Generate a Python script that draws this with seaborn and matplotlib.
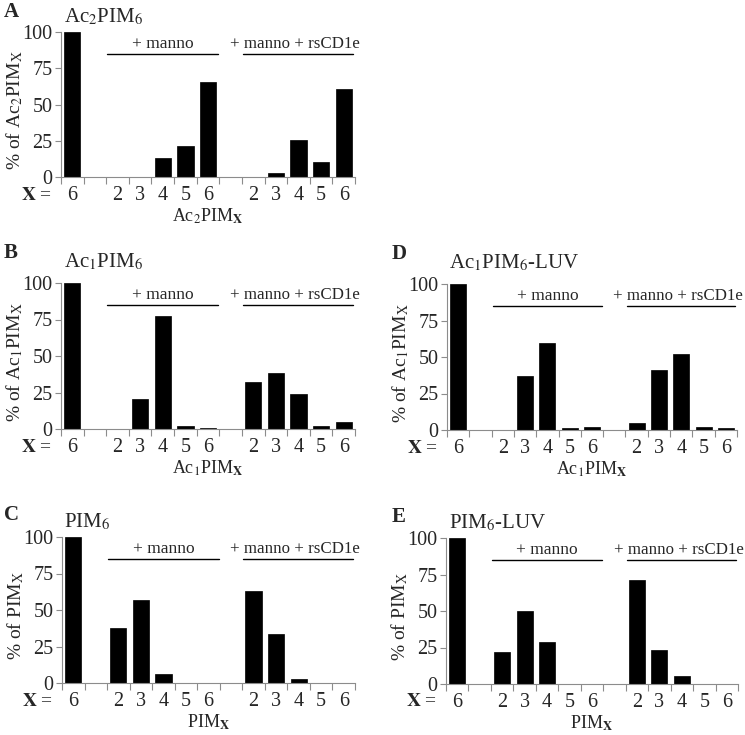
import seaborn as sns
import pandas as pd
import matplotlib.pyplot as plt

# slot layout: control, gap, +manno (2-6), gap, +manno+rsCD1e (2-6)
slots = ["c6", "gap1", "m2", "m3", "m4", "m5", "m6", "gap2", "r2", "r3", "r4", "r5", "r6"]
slot_labels = ["6", "", "2", "3", "4", "5", "6", "", "2", "3", "4", "5", "6"]
data_slots = ["c6", "m2", "m3", "m4", "m5", "m6", "r2", "r3", "r4", "r5", "r6"]

ac2pim6 = [100, 0, 0, 13, 21.5, 65.7, 0, 3, 25.7, 10.6, 60.7]
ac1pim6 = [100, 0, 20.6, 77.3, 2.3, 0.5, 32, 38.4, 23.8, 1.8, 4.8]
ac1pim6_luv = [100, 0, 37.1, 59.9, 1.6, 1.9, 4.8, 41, 51.9, 1.8, 1.5]
pim6 = [100, 37.6, 56.9, 6.4, 0, 0, 63.3, 33.5, 2.5, 0, 0]
pim6_luv = [100, 21.9, 49.8, 28.5, 0, 0, 71.5, 23.5, 5.5, 0, 0]

panels = [
    ("A", r"Ac$_2$PIM$_6$", ac2pim6, r"% of Ac$_2$PIM$_\mathrm{X}$", r"Ac$_2$PIM$_\mathbf{X}$"),
    ("B", r"Ac$_1$PIM$_6$", ac1pim6, r"% of Ac$_1$PIM$_\mathrm{X}$", r"Ac$_1$PIM$_\mathbf{X}$"),
    ("D", r"Ac$_1$PIM$_6$-LUV", ac1pim6_luv, r"% of Ac$_1$PIM$_\mathrm{X}$", r"Ac$_1$PIM$_\mathbf{X}$"),
    ("C", r"PIM$_6$", pim6, r"% of PIM$_\mathrm{X}$", r"PIM$_\mathbf{X}$"),
    ("E", r"PIM$_6$-LUV", pim6_luv, r"% of PIM$_\mathrm{X}$", r"PIM$_\mathbf{X}$"),
]

sns.set_style("ticks")
plt.rcParams["font.family"] = ["Liberation Serif", "DejaVu Serif"]
plt.rcParams["mathtext.fontset"] = "stix"

W, H = 745, 735
fig = plt.figure(figsize=(7.45, 7.35), dpi=100)

# axes boxes in pixels: left, right, top(y=100), bottom(y=0)
boxes = {
    "A": (61, 355, 32, 177),
    "B": (61, 355, 283, 429),
    "D": (447, 737, 284, 430),
    "C": (62, 355, 537, 683),
    "E": (446, 738, 538, 684),
}
letter_pos = {"A": (4, 12), "B": (4, 253), "D": (392, 254), "C": (4, 515), "E": (392, 517)}
title_pos = {"A": (64, 17), "B": (64, 262), "D": (449, 263), "C": (64, 522), "E": (449, 523)}

gray = "#8c8c8c"
for letter, title, vals, ylab, xlab in panels:
    l, r, t, b = boxes[letter]
    ax = fig.add_axes([l / W, 1 - b / H, (r - l) / W, (b - t) / H])
    df = pd.DataFrame({"slot": data_slots, "val": vals})
    sns.barplot(data=df, x="slot", y="val", order=slots, color="black",
                width=0.72, edgecolor="black", linewidth=0.5, ax=ax)
    ax.set_xlim(-0.5, 12.5)
    ax.set_ylim(0, 100)
    ax.set_yticks([0, 25, 50, 75, 100])
    ax.set_xticks([i - 0.5 for i in range(14)])
    ax.set_xticklabels([])
    ax.set_xticks(range(13), minor=True)
    ax.set_xticklabels(slot_labels, minor=True)
    ax.tick_params(axis="x", which="major", length=5, color=gray, width=0.8)
    ax.tick_params(axis="x", which="minor", length=0, pad=6.5, labelsize=14.5)
    ax.tick_params(axis="y", length=4, color=gray, width=0.8, labelsize=14.5, pad=2)
    for side in ["top", "right"]:
        ax.spines[side].set_visible(False)
    for side in ["left", "bottom"]:
        ax.spines[side].set_color(gray)
        ax.spines[side].set_linewidth(0.8)
    ax.set_ylabel("")
    ax.set_xlabel(xlab, fontsize=13, labelpad=1)

    # group brackets
    ax.plot([1.55, 6.45], [85, 85], color="black", lw=1, clip_on=False)
    ax.plot([7.55, 12.4], [85, 85], color="black", lw=1, clip_on=False)
    ax.text(4, 91.5, "+ manno", ha="center", va="center", fontsize=12.5)
    ax.text(9.85, 91.5, "+ manno + rsCD1e", ha="center", va="center", fontsize=12.2)

    # y label placed on whole pixels
    fig.text((l - 46) / W, 1 - round((t + b) / 2 + 6) / H, ylab, rotation=90,
             ha="center", va="center", fontsize=14)
    fig.text((l - 24) / W, 1 - (b + 18) / H, r"$\mathbf{X}$ =", ha="center", va="center", fontsize=14)
    lx, ly = letter_pos[letter]
    fig.text(lx / W, 1 - ly / H, letter, ha="left", va="center", fontsize=15, fontweight="bold")
    tx, ty = title_pos[letter]
    fig.text(tx / W, 1 - ty / H, title, ha="left", va="center", fontsize=15)

fig.savefig("out.png", dpi=100)
